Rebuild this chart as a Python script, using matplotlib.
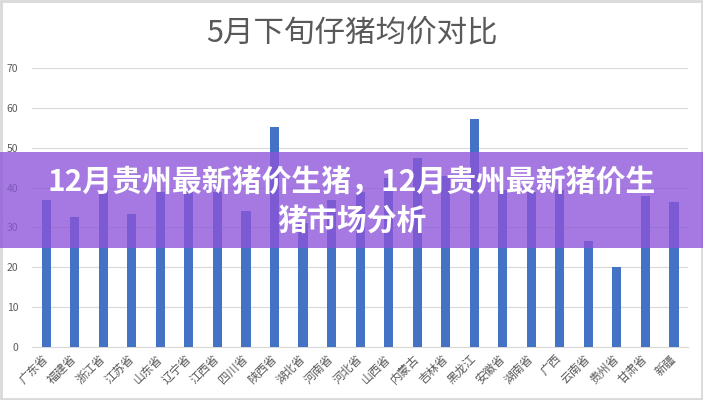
import matplotlib
matplotlib.use("Agg")
import matplotlib.pyplot as plt
from matplotlib.patches import Rectangle

plt.rcParams['font.family'] = ['Noto Sans CJK SC', 'DejaVu Sans']

categories = ["广东省", "福建省", "浙江省", "江苏省", "山东省", "辽宁省", "江西省", "四川省",
              "陕西省", "湖北省", "河南省", "河北省", "山西省", "内蒙古", "吉林省", "黑龙江",
              "安徽省", "湖南省", "广西", "云南省", "贵州省", "甘肃省", "新疆"]
prices = [36.8, 32.5, 39.5, 33.3, 39.0, 39.5, 39.0, 34.1,
          55.3, 31.0, 37.0, 38.8, 42.5, 47.3, 43.0, 57.3,
          39.5, 39.0, 39.5, 26.7, 20.0, 37.8, 36.3]
yticks = [0, 10, 20, 30, 40, 50, 60, 70]
chart_title = "5月下旬仔猪均价对比"
banner_text = "12月贵州最新猪价生猪，12月贵州最新猪价生\n猪市场分析"

fig = plt.figure(figsize=(7.03, 4.0), dpi=100)
ax = fig.add_axes([0.0455, 0.1325, 0.9335, 0.6975])

x = list(range(len(categories)))
ax.bar(x, prices, width=0.32, color="#4472C4", zorder=3)
ax.set_xlim(-0.5, len(categories) - 0.5)
ax.set_ylim(0, 70)
ax.set_yticks(yticks)
ax.yaxis.grid(True, color="#D9D9D9", linewidth=0.8, zorder=0)
for s in ["top", "right", "left"]:
    ax.spines[s].set_visible(False)
ax.spines["bottom"].set_color("#D9D9D9")
ax.tick_params(axis="both", length=0, colors="#595959")
ax.tick_params(axis="y", labelsize=7.5, pad=10)
ax.set_xticks(x)
ax.set_xticklabels(categories, rotation=45, ha="right", va="center",
                   rotation_mode="anchor", fontsize=8.5, color="#595959")
ax.tick_params(axis="x", pad=7)

fig.text(0.5, 0.918, chart_title, ha="center", va="center", fontsize=22, color="#595959")

# frame border
fig.patches.append(Rectangle((0.002, 0.003), 0.996, 0.994, transform=fig.transFigure,
                             fill=False, edgecolor="#D9D9D9", linewidth=2))

# banner overlay
fig.patches.append(Rectangle((0, 0.38), 1, 0.24, transform=fig.transFigure,
                             facecolor=(0.55, 0.33, 0.85, 0.78), edgecolor="none", zorder=10))
fig.text(0.5, 0.495, banner_text, ha="center", va="center", fontsize=21.5, color="white",
         fontweight="bold", linespacing=1.4, zorder=11)

fig.savefig("out.png", dpi=100)
